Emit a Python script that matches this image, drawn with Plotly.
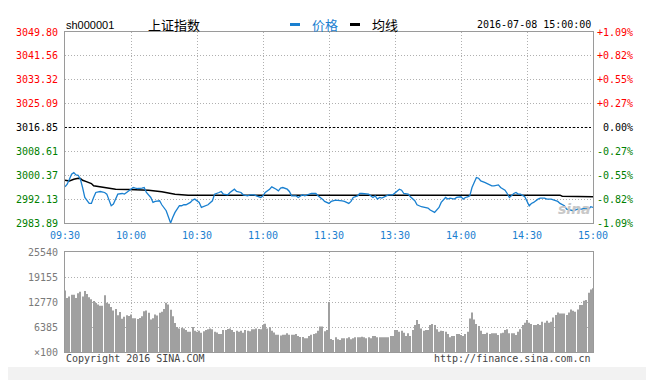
import plotly.graph_objects as go

# ---------------- data ----------------
price_minutes = [
    0, 1, 2, 3, 4, 5, 6, 7, 8, 9,
    11, 12, 13, 14, 16, 18, 19, 20, 21, 22,
    23, 24, 26, 27, 28, 30, 31, 32, 33, 35,
    36, 37, 39, 40, 41, 43, 44, 46, 47, 48,
    49, 50, 52, 53, 54, 55, 57, 58, 59, 61,
    62, 64, 65, 67, 68, 70, 71, 72, 74, 75,
    77, 78, 80, 81, 83, 84, 86, 87, 89, 90,
    91, 93, 94, 96, 97, 98, 99, 101, 102, 103,
    105, 106, 108, 109, 111, 112, 114, 115, 117, 118,
    120,
    121, 123, 124, 126, 127, 129, 130, 131, 133, 134,
    135, 137, 138, 140, 141, 142, 143, 144, 146, 147,
    149, 151, 152, 153, 154, 156, 157, 159, 160, 162,
    163, 165, 166, 168, 170, 171, 173, 174, 175, 177,
    178, 180, 181, 182, 183, 184, 185, 186, 187, 188,
    189, 191, 192, 194, 195, 197, 198, 200, 201, 202,
    204, 205, 206, 207, 209, 210, 211, 212, 213, 215,
    216, 218, 219, 221, 222, 224, 225, 227, 228, 230,
    231, 233, 235, 236, 238, 239, 240,
]
price_values = [
    2996.36, 2997.28, 2998.99, 3000.71, 3001.28, 3000.48, 3000.37, 2998.99, 2996.13, 2992.70,
    2990.64, 2990.64, 2992.70, 2994.42, 2994.76, 2994.42, 2993.85, 2991.56, 2989.84, 2990.41,
    2992.13, 2993.85, 2994.07, 2993.85, 2994.42, 2995.56, 2996.13, 2995.91, 2995.79, 2995.91,
    2996.13, 2994.42, 2992.70, 2990.99, 2991.33, 2991.56, 2990.18, 2988.13, 2985.84, 2983.89,
    2985.84, 2987.55, 2989.84, 2989.84, 2990.18, 2990.18, 2990.99, 2991.79, 2992.13, 2990.99,
    2989.27, 2989.84, 2990.18, 2991.56, 2993.85, 2994.42, 2994.76, 2993.85, 2993.62, 2994.42,
    2995.56, 2994.76, 2994.42, 2993.62, 2993.27, 2993.62, 2993.62, 2993.27, 2992.70, 2993.27,
    2994.42, 2995.56, 2996.36, 2995.56, 2994.99, 2995.91, 2996.13, 2995.56, 2994.76, 2993.27,
    2993.27, 2992.70, 2993.62, 2993.27, 2993.85, 2994.07, 2994.07, 2993.27, 2992.13, 2991.33,
    2990.64,
    2991.33, 2991.79, 2991.79, 2991.56, 2991.33, 2990.64, 2991.33, 2992.70, 2993.27, 2994.07,
    2994.07, 2994.07, 2993.85, 2992.70, 2993.27, 2992.13, 2992.70, 2992.47, 2993.27, 2993.62,
    2993.62, 2994.99, 2995.56, 2995.22, 2994.07, 2993.85, 2992.93, 2991.56, 2990.18, 2989.50,
    2989.27, 2989.04, 2988.36, 2987.55, 2989.27, 2990.99, 2992.70, 2992.13, 2992.47, 2992.13,
    2992.70, 2992.93, 2992.13, 2992.70, 2992.93, 2993.27, 2996.13, 2997.85, 2999.57, 2999.34,
    2998.42, 2997.85, 2997.51, 2996.71, 2996.71, 2997.05, 2996.13, 2995.22, 2994.07, 2992.70,
    2994.07, 2994.42, 2993.85, 2993.85, 2992.93, 2991.56, 2989.84, 2990.64, 2990.99, 2992.13,
    2992.47, 2992.47, 2992.13, 2992.13, 2991.79, 2991.33, 2990.64, 2989.84, 2988.70, 2988.36,
    2988.13, 2988.70, 2988.70, 2989.04, 2988.70, 2989.50, 2989.27,
]

avg_minutes = [0, 2, 4, 6, 7, 8, 10, 12, 13, 15, 18, 20, 23, 29, 38, 44, 50, 56,
               120, 167, 168, 187, 188, 225, 226, 236, 237, 240]
avg_values = [2998.65, 2998.42, 2999.00, 2999.34, 2999.22, 2998.65, 2998.08, 2997.51,
              2996.71, 2996.48, 2996.36, 2995.91, 2995.56, 2995.45, 2995.22, 2994.65,
              2993.85, 2993.50, 2993.50, 2993.50, 2993.27, 2993.27, 2993.50, 2993.50,
              2993.16, 2993.16, 2992.93, 2992.93]

volume_morning = [
    15700, 13800, 14200, 14600, 14600, 13800, 15000, 15400, 14200, 15600,
    14800, 14000, 13500, 13000, 12500, 12100, 11800, 11800, 14500, 12600,
    12300, 11500, 10600, 11000, 9400, 10200, 8500, 9000, 9400, 9200,
    9600, 8600, 8600, 8400, 8700, 9100, 10400, 10600, 10000, 8300,
    8600, 9600, 9300, 10000, 10300, 11000, 12600, 12100, 10800, 9100,
    7400, 6400, 6000, 6200, 6000, 5600, 5200, 5200, 6400, 5400,
    5200, 5400, 4900, 5300, 5600, 5800, 6000, 5800, 5200, 5000,
    4600, 4600, 5600, 5600, 5900, 6000, 5600, 5100, 5400, 5200,
    5400, 4900, 5600, 5400, 5300, 5800, 5800, 6000, 5900, 5800,
    6900, 7200, 6000, 6300, 5400, 5000, 4400, 4400, 4200, 4400,
    4400, 4800, 4400, 4400, 4400, 4600, 4100, 3800, 3800, 3500,
    3500, 4100, 4400, 4600, 4800, 5400, 6500, 6500, 5300, 5600,
    12800,
]
volume_afternoon = [
    3300, 3060, 3740, 3230, 3060, 3480, 3480, 3480, 3740, 3230,
    3480, 3740, 3740, 3740, 3910, 3740, 3480, 3740, 3480, 4080,
    4080, 3740, 3740, 3740, 3740, 3740, 3740, 4080, 4080,
    5610, 5610, 5180, 5440, 4930, 4080, 4760, 4080, 5610, 6880,
    8160, 7140, 6030, 5440, 5610, 5610, 6880, 7140, 6880, 5780,
    5180, 5440, 5350, 5180, 4590, 3740, 4080, 4080, 4590, 4590,
    4330, 4080, 4590, 5180, 8580, 10110, 8330, 7140, 6630, 5440,
    4590, 4590, 4930, 4590, 4760, 4760, 4760, 4330, 4760, 4930,
    5610, 5780, 4760, 4760, 4760, 4330, 5180, 5780, 6880, 7480,
    8160, 7480, 7140, 6880, 6880, 7140, 6880, 7730, 7480, 7990,
    7480, 7730, 8840, 9430, 10110, 9860, 9860, 9860, 9430, 10110,
    10880, 10540, 10280, 10880, 11980, 12000, 13090, 13260, 15130, 15980,
    16300,
]
volume_values = volume_morning + volume_afternoon
volume_minutes = list(range(len(volume_values)))

price_ticks = [3049.80, 3041.56, 3033.32, 3025.09, 3016.85, 3008.61, 3000.37, 2992.13, 2983.89]
price_tick_labels = ["3049.80", "3041.56", "3033.32", "3025.09", "3016.85",
                     "3008.61", "3000.37", "2992.13", "2983.89"]
pct_tick_labels = ["+1.09%", "+0.82%", "+0.55%", "+0.27%", "0.00%",
                   "-0.27%", "-0.55%", "-0.82%", "-1.09%"]
prev_close = 3016.85

vol_ticks = [25540, 19155, 12770, 6385, 0]
vol_tick_labels = ["25540", "19155", "12770", "6385", "×100"]

time_ticks = [0, 30, 60, 90, 120, 150, 180, 210, 240]
time_tick_labels = ["09:30", "10:00", "10:30", "11:00", "11:30", "13:30", "14:00", "14:30", "15:00"]

title_code = "sh000001"
title_name = "上证指数"
legend_price = "价格"
legend_avg = "均线"
timestamp = "2016-07-08 15:00:00"

# ---------------- style ----------------
BLUE = "#1a80d0"
RED = "#ff0000"
GREEN = "#008000"
GRID = "#b0b0b0"
BORDER = "#9a9a9a"
MONO = "DejaVu Sans Mono, Liberation Mono, monospace"
SANS = "Liberation Sans, Arial, sans-serif"
CJK = "Noto Sans CJK SC, sans-serif"

# the page body adds an 8px offset; all reference pixel positions are shifted by it
OFF = 8
W, H = 654, 380
L, T = 65 - OFF, 32 - OFF
R = W - (593 - OFF)
B = H - (352 - OFF)
PW, PH = W - L - R, H - T - B


def px(x):
    return (x - OFF - L) / PW


def py(y):
    return (H - B - (y - OFF)) / PH


fig = go.Figure()

fig.add_trace(go.Bar(x=volume_minutes, y=volume_values, marker=dict(color="#a0a0a0", line=dict(width=0)),
                     xaxis="x2", yaxis="y2", hoverinfo="skip"))
fig.add_trace(go.Scatter(x=avg_minutes, y=avg_values, mode="lines",
                         line=dict(color="#000000", width=1.5), xaxis="x", yaxis="y"))
fig.add_trace(go.Scatter(x=price_minutes, y=price_values, mode="lines",
                         line=dict(color=BLUE, width=1.3), xaxis="x", yaxis="y"))

axis_common = dict(showline=True, mirror=True, linecolor=BORDER, linewidth=1,
                   showgrid=True, gridcolor=GRID, griddash="1px,2px", gridwidth=1,
                   zeroline=False, showticklabels=False, ticks="")

price_dom_bottom = py(223)
vol_dom_top = py(252)

fig.update_layout(
    width=W, height=H,
    margin=dict(l=L, r=R, t=T, b=B, pad=0),
    paper_bgcolor="white", plot_bgcolor="white",
    showlegend=False,
    bargap=0.5,
    xaxis=dict(domain=[0, 1], range=[0, 240], anchor="y", tickvals=time_ticks[1:-1], **axis_common),
    yaxis=dict(domain=[price_dom_bottom, 1], range=[price_ticks[-1], price_ticks[0]], anchor="x",
               tickvals=price_ticks[1:-1], **axis_common),
    xaxis2=dict(domain=[0, 1], range=[0, 240], anchor="y2", tickvals=time_ticks[1:-1], **axis_common),
    yaxis2=dict(domain=[0, vol_dom_top], range=[0, vol_ticks[0]], anchor="x2",
                tickvals=vol_ticks[1:-1], **axis_common),
)

shapes = []
# previous close reference line
shapes.append(dict(type="line", xref="x", yref="y", x0=0, x1=240, y0=prev_close, y1=prev_close,
                   line=dict(color="#000000", width=1, dash="2px,2px")))
# legend dashes
shapes.append(dict(type="line", xref="paper", yref="paper", x0=px(290), x1=px(300), y0=py(24.5), y1=py(24.5),
                   line=dict(color=BLUE, width=3)))
shapes.append(dict(type="line", xref="paper", yref="paper", x0=px(350), x1=px(360), y0=py(24.5), y1=py(24.5),
                   line=dict(color="#000000", width=3)))
# bottom grey band
shapes.append(dict(type="rect", xref="paper", yref="paper", x0=px(0), x1=px(W + OFF), y0=py(367), y1=py(H + OFF),
                   fillcolor="#f2f2f2", line=dict(width=0), layer="below"))
fig.update_layout(shapes=shapes)

ann = []


def color_for(v):
    if abs(v - prev_close) < 1e-6:
        return "#000000"
    return RED if v > prev_close else GREEN


for v, lab, pl in zip(price_ticks, price_tick_labels, pct_tick_labels):
    c = color_for(v)
    ann.append(dict(xref="paper", yref="y", x=px(60), y=v, text=lab, showarrow=False,
                    xanchor="right", yanchor="middle", font=dict(family=MONO, size=10, color=c)))
    ann.append(dict(xref="paper", yref="y", x=px(635), y=v, text=pl, showarrow=False,
                    xanchor="right", yanchor="middle", font=dict(family=MONO, size=10, color=c)))

for v, lab in zip(vol_ticks, vol_tick_labels):
    ann.append(dict(xref="paper", yref="y2", x=px(60), y=v, text=lab, showarrow=False,
                    xanchor="right", yanchor="middle", font=dict(family=MONO, size=10, color="#7a7a7a")))

for t, lab in zip(time_ticks, time_tick_labels):
    ann.append(dict(xref="x", yref="paper", x=t, y=py(235), text=lab, showarrow=False,
                    xanchor="center", yanchor="middle", font=dict(family=MONO, size=10, color=BLUE)))

ann.append(dict(xref="paper", yref="paper", x=px(64), y=py(25), text=title_code, showarrow=False,
                xanchor="left", yanchor="middle", font=dict(family=SANS, size=11, color="#000000")))
ann.append(dict(xref="paper", yref="paper", x=px(146), y=py(24), text=title_name, showarrow=False,
                xanchor="left", yanchor="middle", font=dict(family=CJK, size=13, color="#000000")))
ann.append(dict(xref="paper", yref="paper", x=px(310), y=py(24), text=legend_price, showarrow=False,
                xanchor="left", yanchor="middle", font=dict(family=CJK, size=13, color=BLUE)))
ann.append(dict(xref="paper", yref="paper", x=px(370), y=py(24), text=legend_avg, showarrow=False,
                xanchor="left", yanchor="middle", font=dict(family=CJK, size=13, color="#000000")))
ann.append(dict(xref="paper", yref="paper", x=px(593), y=py(25), text=timestamp, showarrow=False,
                xanchor="right", yanchor="middle", font=dict(family=MONO, size=10, color="#000000")))
ann.append(dict(xref="paper", yref="paper", x=px(64), y=py(358), text="Copyright 2016 SINA.COM", showarrow=False,
                xanchor="left", yanchor="middle", font=dict(family=MONO, size=10, color="#444444")))
ann.append(dict(xref="paper", yref="paper", x=px(593), y=py(358), text="http://finance.sina.com.cn", showarrow=False,
                xanchor="right", yanchor="middle", font=dict(family=MONO, size=10, color="#444444")))
# watermark
ann.append(dict(xref="paper", yref="paper", x=px(574), y=py(209), text="<b><i>sina</i></b>", showarrow=False,
                xanchor="center", yanchor="middle", font=dict(family="DejaVu Sans", size=14, color="#c8c8c8")))
fig.update_layout(annotations=ann)

fig.write_html("out.html")
